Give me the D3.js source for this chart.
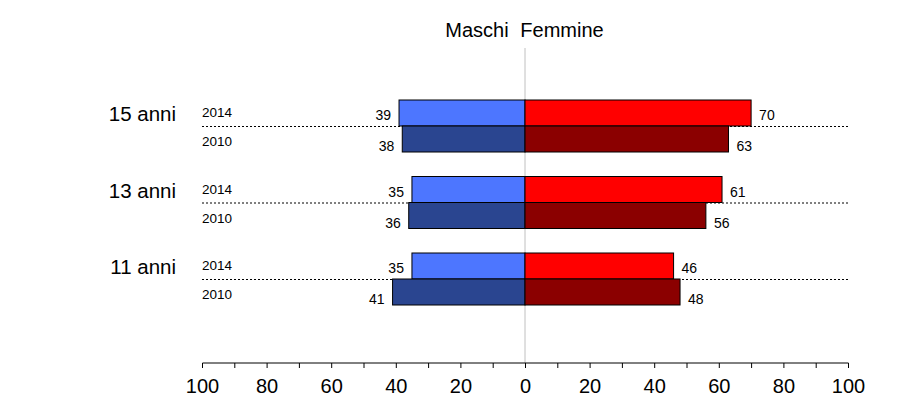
<!DOCTYPE html>
<html><head><meta charset="utf-8">
<script src="https://cdn.jsdelivr.net/npm/d3@7"></script>
<style>body{margin:0;background:#fff}svg{display:block}text{font-family:Arial,"Liberation Sans",sans-serif}</style>
</head><body><svg id="c" width="899" height="405"></svg>
<script>
const groups = ["15 anni","13 anni","11 anni"];
const years = ["2014","2010"];
const maschi2014 = [39,35,35];
const maschi2010 = [38,36,41];
const femmine2014 = [70,61,46];
const femmine2010 = [63,56,48];
const tickValues = [-100,-80,-60,-40,-20,0,20,40,60,80,100];

const svg = d3.select("#c");
const x = d3.scaleLinear().domain([-100,100]).range([202,848]);
const yG = d3.scaleBand().domain(groups).range([100,329.5]).paddingInner(0).paddingOuter(0);
const barH = 26;
const groupTop = g => yG(g);

// center line
svg.append("line").attr("x1",x(0)).attr("x2",x(0)).attr("y1",48).attr("y2",363)
  .attr("stroke","#c0c0c0").attr("stroke-width",1);

// dotted separators
groups.forEach(g=>{
  const yy = groupTop(g)+barH;
  svg.append("line").attr("x1",x(-100)).attr("x2",x(100)).attr("y1",yy+0.5).attr("y2",yy+0.5)
    .attr("stroke","#000").attr("stroke-width",1).attr("stroke-dasharray","2,2");
});

const series = [
  {vals:maschi2014, side:-1, row:0, color:"#4d76ff"},
  {vals:maschi2010, side:-1, row:1, color:"#2a4590"},
  {vals:femmine2014, side:1, row:0, color:"#ff0000"},
  {vals:femmine2010, side:1, row:1, color:"#8b0000"}
];
series.forEach(s=>{
  groups.forEach((g,i)=>{
    const v = s.vals[i];
    const y0 = groupTop(g) + s.row*barH;
    const xa = x(0), xb = x(s.side*v);
    svg.append("rect").attr("x",Math.min(xa,xb)).attr("y",y0).attr("width",Math.abs(xb-xa)).attr("height",barH)
      .attr("fill",s.color).attr("stroke","#000").attr("stroke-width",1);
    svg.append("text").attr("x", s.side<0 ? xb-8 : xb+8)
      .attr("y", y0 + (s.row===0 ? 20 : 25))
      .attr("text-anchor", s.side<0 ? "end":"start")
      .attr("font-size",14).attr("fill","#000").text(v);
  });
});

// year and group labels
groups.forEach(g=>{
  years.forEach((yr,j)=>{
    svg.append("text").attr("x",202).attr("y",groupTop(g)+j*barH+(j===0?17:20))
      .attr("font-size",13.5).text(yr);
  });
  svg.append("text").attr("x",176).attr("y",groupTop(g)+21).attr("text-anchor","end")
    .attr("font-size",20.5).text(g);
});

// title labels
svg.append("text").attr("x",477).attr("y",37).attr("text-anchor","middle").attr("font-size",20).text("Maschi");
svg.append("text").attr("x",562).attr("y",37).attr("text-anchor","middle").attr("font-size",20).text("Femmine");

// axis
const axis = d3.axisBottom(x).tickValues(d3.range(-100,101,10)).tickSize(5)
  .tickFormat(d => tickValues.includes(d) ? Math.abs(d) : "");
const ag = svg.append("g").attr("transform","translate(0,363)").call(axis);
ag.select(".domain").attr("stroke","#000").attr("d","M202.5,0H848.5");
ag.selectAll(".tick line").attr("stroke","#000");
ag.selectAll(".tick text").attr("font-size",20).attr("font-family","Arial,'Liberation Sans',sans-serif").attr("fill","#000").attr("dy","1.1em");
</script></body></html>
